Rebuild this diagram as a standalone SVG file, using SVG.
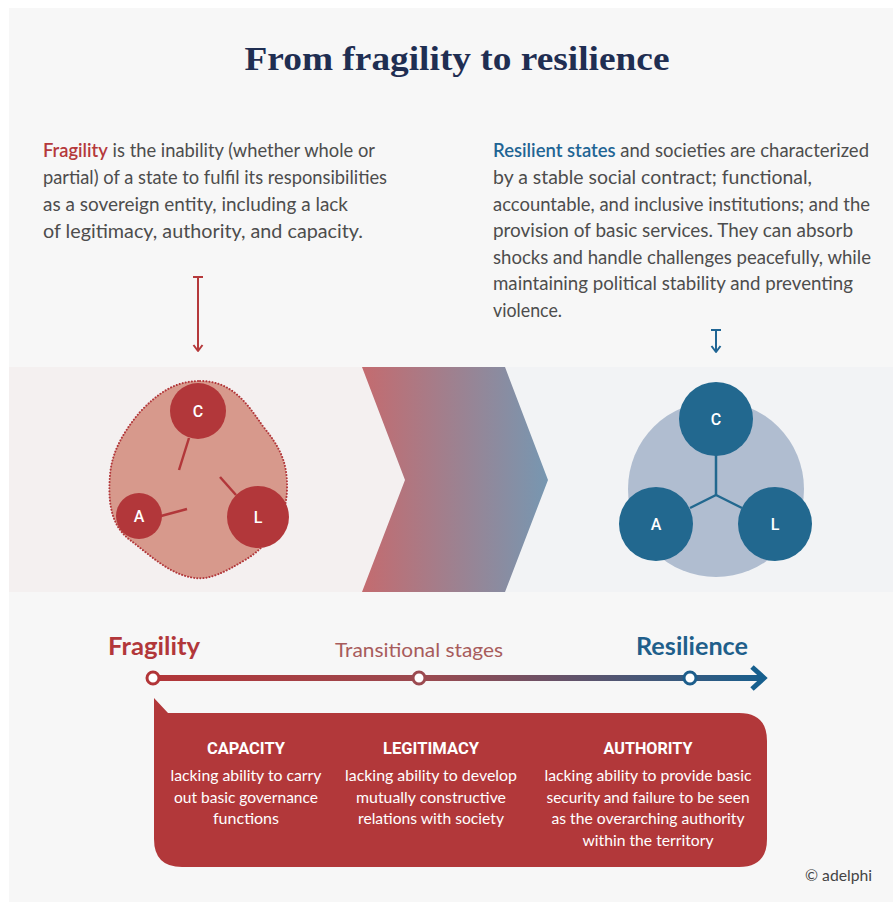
<svg xmlns="http://www.w3.org/2000/svg" width="893" height="903" viewBox="0 0 893 903">
<defs>
<linearGradient id="chev" x1="362" y1="0" x2="548" y2="0" gradientUnits="userSpaceOnUse">
<stop offset="0" stop-color="#c46b6f"/>
<stop offset="1" stop-color="#7797b1"/>
</linearGradient>
<linearGradient id="tl" x1="153" y1="0" x2="768" y2="0" gradientUnits="userSpaceOnUse">
<stop offset="0" stop-color="#b23538"/>
<stop offset="0.45" stop-color="#9a4a50"/>
<stop offset="1" stop-color="#165f8e"/>
</linearGradient>
<style>
.para{font-family:Lato,"Liberation Sans",sans-serif;font-size:18.5px;fill:#4d4d4d}
.red{fill:#b5393b;font-weight:600}
.blue{fill:#1f6594;font-weight:600}
.let{font-family:Roboto,"Liberation Sans",sans-serif;font-size:16px;fill:#ffffff;text-anchor:middle;font-weight:500}
.hd{font-family:Roboto,"Liberation Sans",sans-serif;font-size:17px;font-weight:700;fill:#ffffff;text-anchor:middle}
.bd{font-family:Lato,"Liberation Sans",sans-serif;font-size:16px;fill:#ffffff;text-anchor:middle}
.rc{fill:#b2373a}
.bc{fill:#22688f}
</style>
</defs>
<rect x="0" y="0" width="893" height="903" fill="#ffffff"/>
<rect x="9" y="8" width="884" height="894" fill="#f7f7f7"/>
<rect x="9" y="367" width="441" height="225" fill="#f4f0f0"/>
<rect x="450" y="367" width="443" height="225" fill="#f2f3f5"/>
<polygon points="362,367 505,367 548,480 505,592 362,592 405,480" fill="url(#chev)"/>

<text x="457" y="70" text-anchor="middle" font-family="'Liberation Serif',serif" font-weight="700" font-size="34" fill="#1f2e52" textLength="425" lengthAdjust="spacingAndGlyphs">From fragility to resilience</text>

<g id="fragility-text">
<text class="para" x="43" y="157" textLength="332" lengthAdjust="spacingAndGlyphs"><tspan class="red">Fragility</tspan> is the inability (whether whole or</text>
<text class="para" x="43" y="184" textLength="344" lengthAdjust="spacingAndGlyphs">partial) of a state to fulfil its responsibilities</text>
<text class="para" x="43" y="211" textLength="305" lengthAdjust="spacingAndGlyphs">as a sovereign entity, including a lack</text>
<text class="para" x="43" y="238" textLength="320" lengthAdjust="spacingAndGlyphs">of legitimacy, authority, and capacity.</text>
</g>

<g id="resilience-text">
<text class="para" x="493" y="157" textLength="376" lengthAdjust="spacingAndGlyphs"><tspan class="blue">Resilient states</tspan> and societies are characterized</text>
<text class="para" x="493" y="184" textLength="319" lengthAdjust="spacingAndGlyphs">by a stable social contract; functional,</text>
<text class="para" x="493" y="211" textLength="377" lengthAdjust="spacingAndGlyphs">accountable, and inclusive institutions; and the</text>
<text class="para" x="493" y="237" textLength="360" lengthAdjust="spacingAndGlyphs">provision of basic services. They can absorb</text>
<text class="para" x="493" y="264" textLength="378" lengthAdjust="spacingAndGlyphs">shocks and handle challenges peacefully, while</text>
<text class="para" x="493" y="290" textLength="360" lengthAdjust="spacingAndGlyphs">maintaining political stability and preventing</text>
<text class="para" x="493" y="317" textLength="69" lengthAdjust="spacingAndGlyphs">violence.</text>
</g>

<g id="fragile-state">
<path d="M200,381 C230,381 245,400 262,425 C278,445 288,460 287,490 C286,520 270,545 245,560 C225,572 210,580 195,578 C170,575 150,555 130,540 C110,525 108,500 110,475 C112,450 125,430 140,412 C158,393 175,381 200,381 Z" fill="#d7998c" stroke="#b2373a" stroke-width="2" stroke-dasharray="0.1 3" stroke-linecap="round"/>
<g id="frag-C"><circle class="rc" cx="198" cy="411" r="28"/><text class="let" x="198" y="417">C</text></g>
<g id="frag-A"><circle class="rc" cx="139" cy="516" r="23"/><text class="let" x="139" y="522">A</text></g>
<g id="frag-L"><circle class="rc" cx="258" cy="517" r="31"/><text class="let" x="258" y="523">L</text></g>
</g>

<g id="resilient-state">
<circle cx="716" cy="489" r="88" fill="#b0bdd0"/>
<g id="res-C"><circle class="bc" cx="716" cy="419" r="37"/><text class="let" x="716" y="425">C</text></g>
<g id="res-A"><circle class="bc" cx="656" cy="524" r="37"/><text class="let" x="656" y="530">A</text></g>
<g id="res-L"><circle class="bc" cx="775" cy="524" r="37"/><text class="let" x="775" y="530">L</text></g>
</g>

<g id="connectors">
<g id="arrow-fragility" stroke="#b5393b" stroke-width="2" fill="none">
<line x1="198" y1="277" x2="198" y2="350"/>
<line x1="193" y1="277" x2="203" y2="277"/>
<polyline points="193.5,345 198,351 202.5,345" stroke-linejoin="round"/>
</g>
<g id="arrow-resilience" stroke="#1f6594" stroke-width="2" fill="none">
<line x1="716" y1="330" x2="716" y2="351"/>
<line x1="711" y1="330" x2="721" y2="330"/>
<polyline points="711.5,346 716,352 720.5,346" stroke-linejoin="round"/>
</g>
<g id="fragile-links" stroke="#b2373a" stroke-width="2.5">
<line x1="189" y1="438" x2="179" y2="470"/>
<line x1="220" y1="477" x2="236" y2="495"/>
<line x1="161" y1="516" x2="187" y2="509"/>
</g>
<g id="resilient-links" stroke="#22688f" stroke-width="2.5" stroke-linejoin="round">
<line x1="716" y1="455" x2="716" y2="495"/>
<line x1="716" y1="495" x2="690" y2="508"/>
<line x1="716" y1="495" x2="742" y2="508"/>
</g>
<g id="timeline">
<line x1="153" y1="678" x2="763" y2="678" stroke="url(#tl)" stroke-width="6"/>
<polyline points="752,667 764,678 752,689" fill="none" stroke="#165f8e" stroke-width="5" stroke-linejoin="miter"/>
</g>
</g>

<g id="timeline-nodes">
<circle cx="153" cy="678" r="6" fill="#ffffff" stroke="#b23538" stroke-width="3"/>
<circle cx="419" cy="678" r="6" fill="#ffffff" stroke="#9c4a50" stroke-width="3"/>
<circle cx="690" cy="678" r="6" fill="#ffffff" stroke="#1d5e8c" stroke-width="3"/>
<text x="108" y="655" font-family="Lato,'Liberation Sans',sans-serif" font-weight="700" font-size="25" fill="#b2373a" textLength="92" lengthAdjust="spacingAndGlyphs">Fragility</text>
<text x="335" y="657" font-family="Lato,'Liberation Sans',sans-serif" font-size="20" fill="#a85c5c" textLength="168" lengthAdjust="spacingAndGlyphs">Transitional stages</text>
<text x="636" y="655" font-family="Lato,'Liberation Sans',sans-serif" font-weight="700" font-size="25" fill="#1f5f8b" textLength="112" lengthAdjust="spacingAndGlyphs">Resilience</text>
</g>

<g id="callout">
<path d="M154,698 L168,713 L739,713 Q767,713 767,741 L767,839 Q767,867 739,867 L182,867 Q154,867 154,839 Z" fill="#b2383a"/>
<text class="hd" x="246" y="754" textLength="78" lengthAdjust="spacingAndGlyphs">CAPACITY</text>
<text class="bd" x="246" y="781" textLength="151" lengthAdjust="spacingAndGlyphs">lacking ability to carry</text>
<text class="bd" x="246" y="803" textLength="144" lengthAdjust="spacingAndGlyphs">out basic governance</text>
<text class="bd" x="246" y="824" textLength="66" lengthAdjust="spacingAndGlyphs">functions</text>
<text class="hd" x="431" y="754" textLength="96" lengthAdjust="spacingAndGlyphs">LEGITIMACY</text>
<text class="bd" x="431" y="781" textLength="172" lengthAdjust="spacingAndGlyphs">lacking ability to develop</text>
<text class="bd" x="431" y="803" textLength="150" lengthAdjust="spacingAndGlyphs">mutually constructive</text>
<text class="bd" x="431" y="824" textLength="146" lengthAdjust="spacingAndGlyphs">relations with society</text>
<text class="hd" x="648" y="754" textLength="89" lengthAdjust="spacingAndGlyphs">AUTHORITY</text>
<text class="bd" x="648" y="781" textLength="207" lengthAdjust="spacingAndGlyphs">lacking ability to provide basic</text>
<text class="bd" x="648" y="803" textLength="203" lengthAdjust="spacingAndGlyphs">security and failure to be seen</text>
<text class="bd" x="648" y="824" textLength="193" lengthAdjust="spacingAndGlyphs">as the overarching authority</text>
<text class="bd" x="648" y="846" textLength="131" lengthAdjust="spacingAndGlyphs">within the territory</text>
</g>

<text x="805" y="881" font-family="Lato,'Liberation Sans',sans-serif" font-size="15" fill="#444444" textLength="67" lengthAdjust="spacingAndGlyphs">© adelphi</text>
</svg>
